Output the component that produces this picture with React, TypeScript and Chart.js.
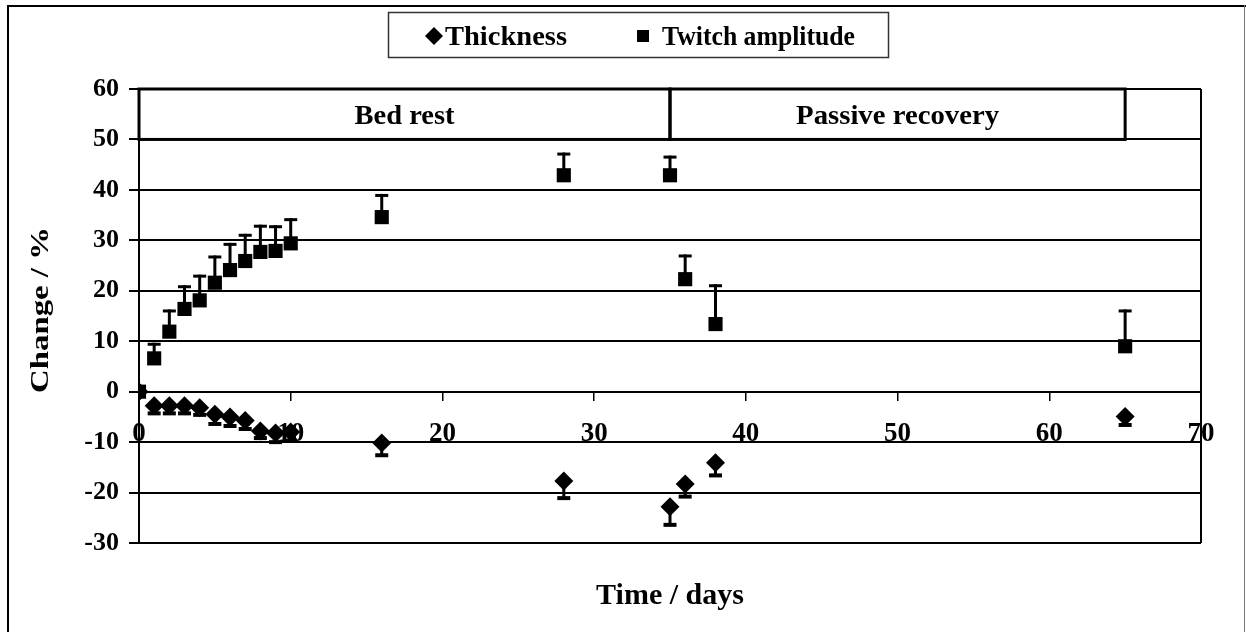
import React, { useEffect, useRef } from 'react';
import { Chart, registerables } from 'chart.js';

Chart.register(...registerables);

const FONT = '"Liberation Serif", "Times New Roman", serif';

const days = [0, 1, 2, 3, 4, 5, 6, 7, 8, 9, 10, 16, 28, 35, 36, 38, 65];
const thickness = [0, -2.8, -2.8, -2.8, -3.2, -4.5, -5.0, -5.7, -7.8, -8.2, -8.0, -10.2, -17.7, -22.8, -18.3, -14.1, -4.9];
const thicknessErr = [0, 1.7, 1.7, 1.7, 1.6, 2.1, 2.0, 1.9, 1.6, 2.0, 1.9, 2.6, 3.6, 3.8, 2.7, 2.7, 1.9];
const twitch = [0, 6.6, 11.9, 16.4, 18.1, 21.6, 24.1, 25.9, 27.7, 27.9, 29.4, 34.6, 42.9, 42.9, 22.3, 13.4, 9.0];
const twitchErr = [0, 2.8, 4.1, 4.4, 4.8, 5.1, 5.1, 5.1, 5.1, 4.8, 4.7, 4.3, 4.2, 3.6, 4.6, 7.6, 7.0];

const seriesLabels = ['Thickness', 'Twitch amplitude'];
const bandLabels = ['Bed rest', 'Passive recovery'];
const bandStarts = [0, 35];
const bandEnds = [35, 65];
const bandLow = 50;
const bandHigh = 60;

const xAxisTitle = 'Time / days';
const yAxisTitle = 'Change / %';

function fitText(ctx: CanvasRenderingContext2D, text: string, x: number, y: number, size: number, width: number | null, align: CanvasTextAlign, rot = 0) {
  ctx.save();
  ctx.font = `bold ${size}px ${FONT}`;
  ctx.fillStyle = '#000';
  ctx.textBaseline = 'alphabetic';
  ctx.textAlign = align;
  const w = ctx.measureText(text).width;
  ctx.translate(x, y);
  ctx.rotate(rot);
  ctx.scale(width ? width / w : 1, 1);
  ctx.fillText(text, 0, 0);
  ctx.restore();
}

export default function App() {
  const ref = useRef<HTMLCanvasElement>(null);

  useEffect(() => {
    const canvas = ref.current!;

    const decor = {
      id: 'decor',
      beforeDatasetsDraw(chart: any) {
        const ctx: CanvasRenderingContext2D = chart.ctx;
        const xs = chart.scales.x;
        const ys = chart.scales.y;
        ctx.save();
        ctx.strokeStyle = '#000';
        ctx.lineCap = 'butt';
        const line = (x1: number, y1: number, x2: number, y2: number, w: number) => {
          ctx.lineWidth = w;
          ctx.beginPath();
          ctx.moveTo(x1, y1);
          ctx.lineTo(x2, y2);
          ctx.stroke();
        };
        days.forEach((d, i) => {
          const px = xs.getPixelForValue(d);
          if (twitchErr[i] > 0) {
            const y0 = ys.getPixelForValue(twitch[i]);
            const y1 = ys.getPixelForValue(twitch[i] + twitchErr[i]);
            line(px, y0, px, y1 - 1.5, 3);
            line(px - 6.5, y1, px + 6.5, y1, 3);
          }
          if (thicknessErr[i] > 0) {
            const y0 = ys.getPixelForValue(thickness[i]);
            const y1 = ys.getPixelForValue(thickness[i] - thicknessErr[i]);
            line(px, y0, px, y1, 3);
            line(px - 6.5, y1 - 1, px + 6.5, y1 - 1, 4);
          }
        });
        ctx.restore();
      },
      afterDraw(chart: any) {
        const ctx: CanvasRenderingContext2D = chart.ctx;
        const xs = chart.scales.x;
        const ys = chart.scales.y;
        const area = chart.chartArea;
        ctx.save();
        // plot right border
        ctx.strokeStyle = '#000';
        ctx.lineWidth = 2;
        ctx.beginPath();
        ctx.moveTo(area.right, area.top);
        ctx.lineTo(area.right, area.bottom);
        ctx.stroke();
        // band boxes
        ctx.lineWidth = 3;
        const yTop = ys.getPixelForValue(bandHigh);
        const yBot = ys.getPixelForValue(bandLow);
        bandLabels.forEach((lab, i) => {
          const x0 = xs.getPixelForValue(bandStarts[i]);
          const x1 = xs.getPixelForValue(bandEnds[i]);
          ctx.strokeRect(x0, yTop, x1 - x0, yBot - yTop);
        });
        ctx.restore();
        const bandWidths = [100, 203];
        bandLabels.forEach((lab, i) => {
          const x0 = xs.getPixelForValue(bandStarts[i]);
          const x1 = xs.getPixelForValue(bandEnds[i]);
          fitText(ctx, lab, (x0 + x1) / 2, 124, 28, bandWidths[i], 'center');
        });
        // axis titles
        fitText(ctx, xAxisTitle, (area.left + area.right) / 2, 604, 30, null, 'center');
        fitText(ctx, yAxisTitle, 48, 310, 26, 166, 'center', -Math.PI / 2);
        // legend
        ctx.save();
        ctx.strokeStyle = '#333';
        ctx.lineWidth = 1.5;
        ctx.strokeRect(388.5, 12.5, 500, 45);
        ctx.fillStyle = '#000';
        ctx.beginPath();
        ctx.moveTo(434, 27);
        ctx.lineTo(443, 36);
        ctx.lineTo(434, 45);
        ctx.lineTo(425, 36);
        ctx.closePath();
        ctx.fill();
        ctx.fillRect(637, 30, 12, 12);
        ctx.restore();
        fitText(ctx, seriesLabels[0], 445, 45, 27, 122, 'left');
        fitText(ctx, seriesLabels[1], 662, 45, 27, 193, 'left');
        // outer border
        ctx.save();
        ctx.fillStyle = '#000';
        ctx.fillRect(7, 5, 2, 627);
        ctx.fillRect(7, 5, 1239, 2);
        ctx.fillStyle = '#777';
        ctx.fillRect(1244, 5, 1, 627);
        ctx.restore();
      },
    };

    const chart = new Chart(canvas, {
      type: 'scatter',
      data: {
        datasets: [
          {
            label: seriesLabels[0],
            data: days.map((d, i) => ({ x: d, y: thickness[i] })),
            pointStyle: 'rectRot',
            pointRadius: 9.5,
            pointHoverRadius: 9.5,
            backgroundColor: '#000',
            borderColor: '#000',
            borderWidth: 0,
          },
          {
            label: seriesLabels[1],
            data: days.map((d, i) => ({ x: d, y: twitch[i] })),
            pointStyle: 'rect',
            pointRadius: 10,
            pointHoverRadius: 10,
            backgroundColor: '#000',
            borderColor: '#000',
            borderWidth: 0,
          },
        ],
      },
      options: {
        animation: false,
        responsive: false,
        devicePixelRatio: 1,
        layout: { padding: { left: 0, top: 89, right: 45, bottom: 89 } },
        plugins: { legend: { display: false }, tooltip: { enabled: false } },
        scales: {
          x: {
            type: 'linear',
            position: { y: 0 },
            min: 0,
            max: 70,
            ticks: { stepSize: 10, color: '#000', font: { family: FONT, size: 27, weight: 'bold' }, padding: 18 },
            grid: { drawOnChartArea: false, drawTicks: true, tickLength: 8, color: '#000', lineWidth: 1.5 },
            border: { display: true, color: '#000', width: 2 },
          },
          y: {
            min: -30,
            max: 60,
            ticks: { stepSize: 10, color: '#000', font: { family: FONT, size: 26, weight: 'bold' }, padding: 10 },
            grid: { color: '#000', lineWidth: 2, tickLength: 10, drawTicks: true },
            border: { display: true, color: '#000', width: 2 },
            afterFit: (s: any) => {
              s.width = 139;
            },
          },
        },
      },
      plugins: [decor],
    } as any);

    return () => chart.destroy();
  }, []);

  return (
    <div style={{ position: 'absolute', left: 0, top: 0, width: 1246, height: 632, background: '#fff' }}>
      <canvas ref={ref} width={1246} height={632} style={{ display: 'block', width: 1246, height: 632 }} />
    </div>
  );
}
